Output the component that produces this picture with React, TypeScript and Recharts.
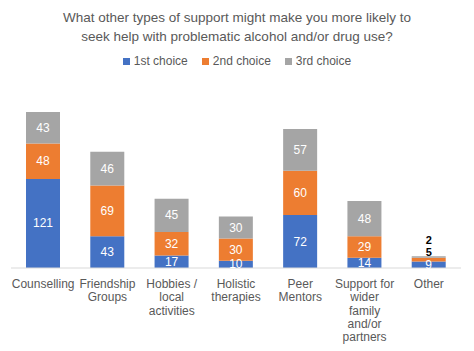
import React from 'react';
import { Bar, BarChart, LabelList, XAxis, YAxis } from 'recharts';

const categories = [
  'Counselling',
  'Friendship\nGroups',
  'Hobbies /\nlocal\nactivities',
  'Holistic\ntherapies',
  'Peer\nMentors',
  'Support for\nwider\nfamily\nand/or\npartners',
  'Other',
];
const firstChoice = [121, 43, 17, 10, 72, 14, 9];
const secondChoice = [48, 69, 32, 30, 60, 29, 5];
const thirdChoice = [43, 46, 45, 30, 57, 48, 2];

const seriesNames = ['1st choice', '2nd choice', '3rd choice'];
const seriesColors = ['#4472C4', '#ED7D31', '#A5A5A5'];

const FONT = '"Liberation Sans", Arial, sans-serif';

const data = categories.map((name, i) => ({
  name,
  first: firstChoice[i],
  second: secondChoice[i],
  third: thirdChoice[i],
}));

function CategoryTick(props: any): JSX.Element {
  const { x, y, payload } = props;
  const lines: string[] = String(payload.value).split('\n');
  return (
    <text x={x} y={y + 2} textAnchor='middle' fill='#595959' fontSize={12} fontFamily={FONT}>
      {lines.map((line, i) => (
        <tspan key={i} x={x} dy={i === 0 ? 10 : 13.3}>{line}</tspan>
      ))}
    </text>
  );
}

function makeLabel(seriesIndex: number) {
  return function SegmentLabel(props: any): JSX.Element {
    const { x, y, width, height, value } = props;
    const small = Math.abs(height) < 6;
    let cy = y + height / 2;
    if (small && seriesIndex === 2) cy -= 17;
    if (small && seriesIndex === 1) cy -= 8;
    return (
      <text
        x={x + width / 2}
        y={cy}
        dy={4}
        textAnchor='middle'
        fill={small ? '#000000' : '#FFFFFF'}
        fontSize={small ? 11 : 12}
        fontWeight={small ? 'bold' : 'normal'}
        fontFamily={FONT}
      >
        {value}
      </text>
    );
  };
}

export default function App(): JSX.Element {
  const keys = ['first', 'second', 'third'];
  return (
    <div style={{ position: 'absolute', left: 0, top: 0, width: 474, height: 351, background: '#fff' }}>
      <div
        style={{
          position: 'absolute', top: 8, left: 0, width: 474, textAlign: 'center',
          color: '#595959', fontFamily: FONT, fontSize: 13.5, lineHeight: '19px',
        }}
      >
        What other types of support might make you more likely to<br />
        seek help with problematic alcohol and/or drug use?
      </div>
      <div
        style={{
          position: 'absolute', top: 54, left: 0, width: 474, display: 'flex',
          justifyContent: 'center', gap: 14, fontFamily: FONT, fontSize: 12, color: '#595959',
        }}
      >
        {seriesNames.map((name, i) => (
          <span key={name} style={{ display: 'flex', alignItems: 'center' }}>
            <span style={{ width: 7, height: 7, background: seriesColors[i], marginRight: 4 }} />
            {name}
          </span>
        ))}
      </div>
      <BarChart
        width={474}
        height={351}
        data={data}
        barSize={34}
        margin={{ top: 84, right: 13, left: 11, bottom: 0 }}
      >
        <XAxis
          dataKey='name'
          interval={0}
          height={83}
          tickLine={false}
          axisLine={{ stroke: '#D9D9D9' }}
          tick={<CategoryTick />}
        />
        <YAxis hide domain={[0, 250]} />
        {keys.map((k, i) => (
          <Bar key={k} dataKey={k} name={seriesNames[i]} stackId='a' fill={seriesColors[i]} isAnimationActive={false}>
            <LabelList dataKey={k} content={makeLabel(i)} />
          </Bar>
        ))}
      </BarChart>
    </div>
  );
}
